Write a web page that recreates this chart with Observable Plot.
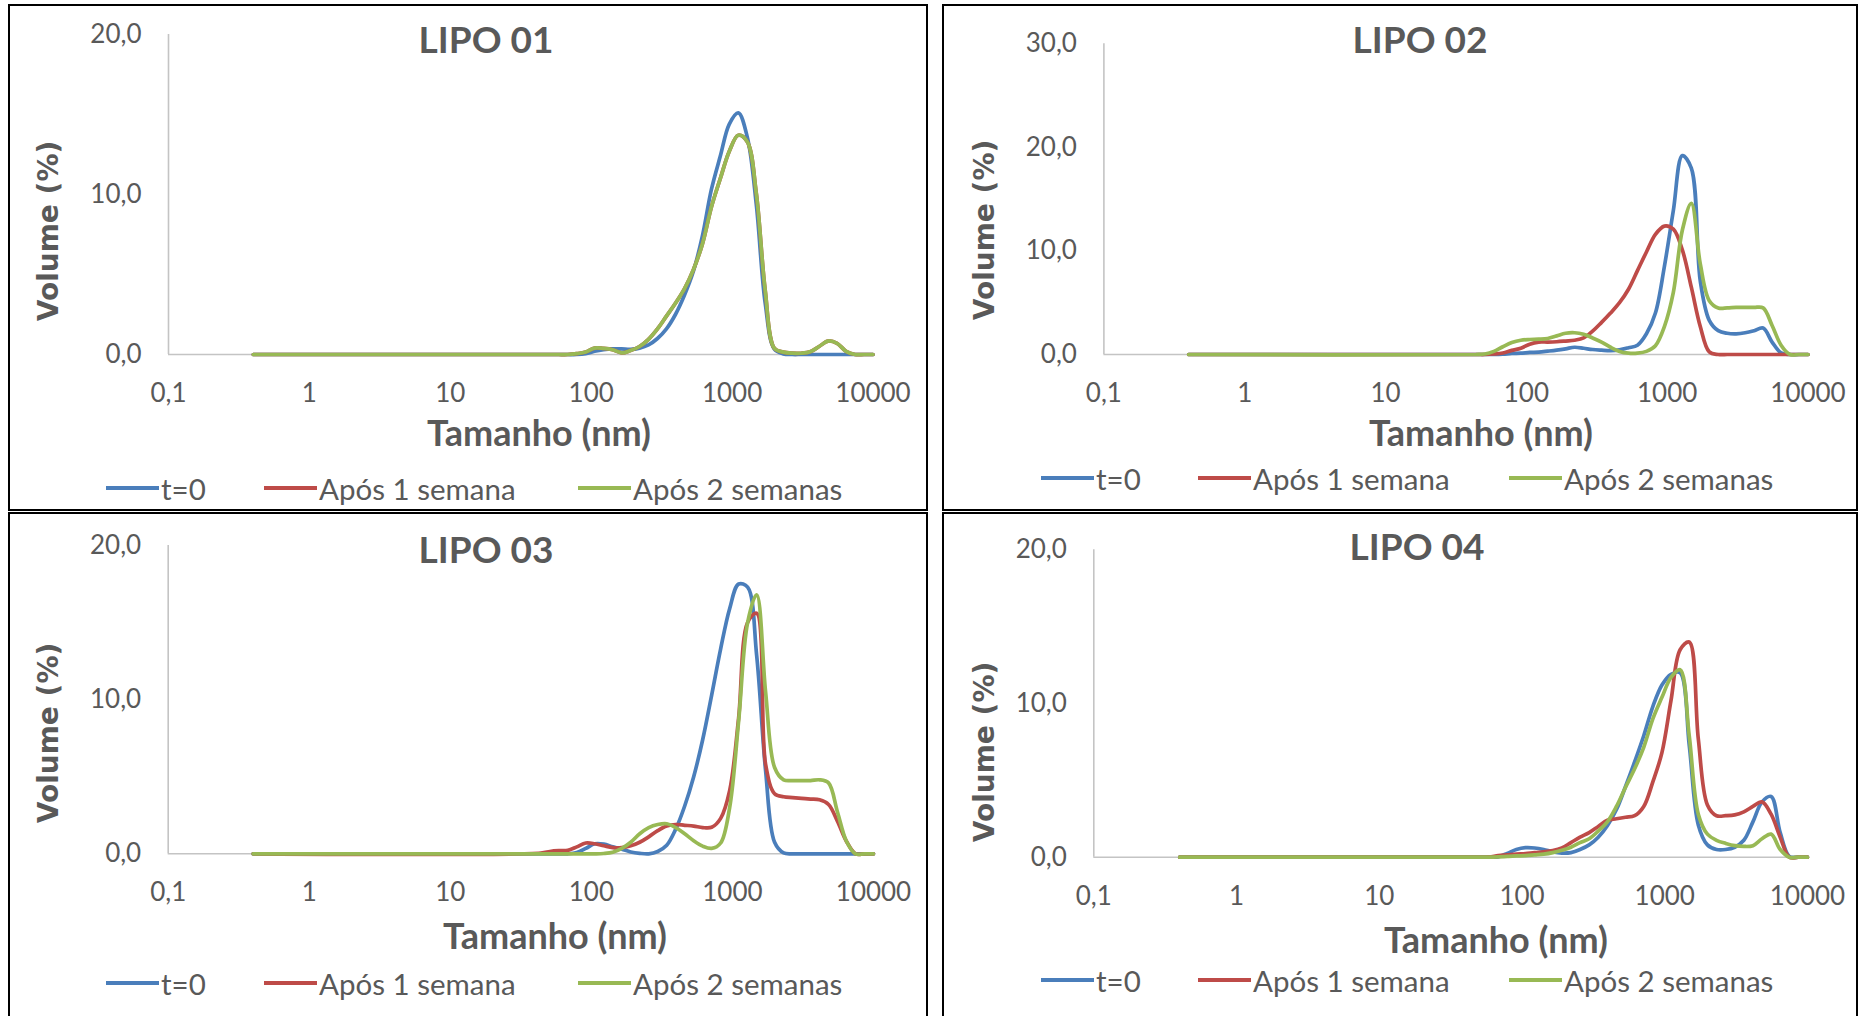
<!DOCTYPE html>
<html>
<head>
<meta charset="utf-8">
<script src="https://cdn.jsdelivr.net/npm/d3@7"></script>
<script src="https://cdn.jsdelivr.net/npm/@observablehq/plot@0.6"></script>
<style>
  html, body { margin: 0; padding: 0; background: #ffffff; }
  body { width: 1861px; height: 1016px; overflow: hidden; position: relative; font-family: Lato, "Open Sans", sans-serif; color: #595959; }
  .box { position: absolute; border: 2px solid #000; box-sizing: border-box; }
  .abs { position: absolute; white-space: nowrap; }
  .title { font-weight: 700; font-size: 37px; transform: translate(-50%, -50%); }
  .xtitle { font-weight: 700; font-size: 36px; transform: translate(-50%, -50%); }
  .ytitle { font-family: "DejaVu Sans", sans-serif; font-weight: 700; font-size: 28px; transform: translate(-50%, -50%) rotate(-90deg); }
  .sw { position: absolute; height: 4px; width: 53px; }
  .lt { position: absolute; font-size: 29.5px; transform: translateY(-50%); white-space: nowrap; }
  .plot { position: absolute; }
</style>
</head>
<body>
<script>
// ---- data ----
const seriesNames = ["t=0", "Após 1 semana", "Após 2 semanas"];
const seriesColors = ["#4a7ebb", "#be4b48", "#98b954"];
const panelTitles = ["LIPO 01", "LIPO 02", "LIPO 03", "LIPO 04"];
const xTicks = [0.1, 1, 10, 100, 1000, 10000];

// size classes (nm)
const sizes = [0.4, 43.82, 50.75, 58.77, 68.06, 78.82, 91.28, 105.7, 122.4, 141.8, 164.2, 190.1, 220.2, 255.0, 295.3, 342.0, 396.1, 458.7, 531.2, 615.1, 712.4, 825.0, 955.4, 1106, 1281, 1484, 1718, 1990, 2305, 2669, 3091, 3580, 4145, 4801, 5560, 6439, 7456, 8635, 10000];

// LIPO 01 — Volume (%)
const lipo01_t0 = [0, 0, 0, 0, 0, 0, 0.05, 0.2, 0.3, 0.35, 0.35, 0.32, 0.4, 0.6, 1.0, 1.6, 2.5, 3.7, 5.2, 7.4, 10.3, 12.4, 14.4, 15.1, 13.6, 9.4, 3.2, 0.35, 0.04, 0, 0, 0, 0, 0, 0, 0, 0, 0, 0];
const lipo01_w1 = [0, 0, 0, 0, 0, 0.05, 0.15, 0.4, 0.38, 0.3, 0.1, 0.25, 0.5, 0.95, 1.6, 2.4, 3.2, 4.1, 5.3, 6.9, 9.2, 11.0, 12.7, 13.7, 13.3, 10.1, 4.0, 0.4, 0.15, 0.08, 0.08, 0.17, 0.5, 0.84, 0.7, 0.2, 0, 0, 0];
const lipo01_w2 = [0, 0, 0, 0, 0, 0.05, 0.15, 0.4, 0.38, 0.3, 0.1, 0.25, 0.5, 0.95, 1.6, 2.4, 3.2, 4.1, 5.3, 6.9, 9.2, 11.0, 12.7, 13.7, 13.3, 10.1, 4.0, 0.4, 0.15, 0.08, 0.08, 0.17, 0.5, 0.84, 0.7, 0.2, 0, 0, 0];

// LIPO 02
const lipo02_t0 = [0, 0, 0, 0, 0.03, 0.1, 0.13, 0.2, 0.23, 0.32, 0.42, 0.55, 0.7, 0.6, 0.48, 0.42, 0.38, 0.45, 0.65, 0.9, 2.0, 4.0, 8.5, 13.9, 19.2, 18.0, 7.1, 3.3, 2.3, 2.05, 2.0, 2.1, 2.3, 2.55, 1.2, 0.15, 0, 0, 0];
const lipo02_w1 = [0, 0, 0, 0.05, 0.15, 0.4, 0.6, 1.0, 1.2, 1.2, 1.23, 1.3, 1.38, 1.6, 2.25, 3.1, 4.0, 5.0, 6.3, 8.1, 9.9, 11.6, 12.4, 12.1, 10.1, 6.5, 2.7, 0.25, 0, 0, 0, 0, 0, 0, 0, 0, 0, 0, 0];
const lipo02_w2 = [0, 0, 0.05, 0.3, 0.75, 1.15, 1.38, 1.45, 1.48, 1.55, 1.8, 2.05, 2.1, 1.95, 1.6, 1.2, 0.7, 0.3, 0.13, 0.13, 0.3, 0.85, 2.7, 6.0, 12.0, 14.6, 8.75, 5.2, 4.5, 4.5, 4.55, 4.55, 4.55, 4.5, 2.8, 0.9, 0, 0, 0];

// LIPO 03
const lipo03_t0 = [0, 0, 0, 0, 0, 0.08, 0.35, 0.65, 0.63, 0.45, 0.3, 0.12, 0.03, 0, 0.15, 0.55, 1.6, 3.1, 5.0, 7.4, 10.3, 13.3, 15.9, 17.5, 17.3, 12.9, 5.4, 0.75, 0.06, 0, 0, 0, 0, 0, 0, 0, 0, 0, 0];
const lipo03_w1 = [0, 0.05, 0.15, 0.2, 0.22, 0.45, 0.7, 0.65, 0.52, 0.4, 0.4, 0.52, 0.75, 1.1, 1.5, 1.8, 1.9, 1.85, 1.8, 1.7, 1.72, 2.3, 4.1, 8.8, 15.0, 15.6, 5.8, 3.9, 3.7, 3.65, 3.6, 3.55, 3.5, 3.2, 2.1, 0.8, 0, 0, 0];
const lipo03_w2 = [0, 0, 0, 0, 0, 0, 0, 0, 0.02, 0.1, 0.35, 0.75, 1.3, 1.7, 1.9, 1.95, 1.7, 1.3, 0.85, 0.5, 0.35, 0.7, 3.0, 8.6, 15.0, 16.8, 10.5, 5.6, 4.8, 4.75, 4.75, 4.75, 4.8, 4.6, 2.7, 0.8, 0, 0, 0];

// LIPO 04
const lipo04_t0 = [0, 0, 0, 0, 0.02, 0.25, 0.5, 0.62, 0.6, 0.5, 0.35, 0.27, 0.3, 0.5, 0.8, 1.3, 2.05, 3.1, 4.6, 6.2, 7.9, 9.8, 11.2, 11.9, 12.0, 7.3, 2.1, 0.8, 0.5, 0.5, 0.65, 1.1, 2.3, 3.6, 3.95, 1.6, 0.05, 0, 0];
const lipo04_w1 = [0, 0, 0, 0.02, 0.1, 0.15, 0.2, 0.23, 0.3, 0.35, 0.43, 0.6, 0.95, 1.3, 1.6, 2.0, 2.4, 2.5, 2.6, 2.7, 3.3, 4.9, 6.8, 10.2, 13.5, 14.0, 7.7, 3.4, 2.7, 2.7, 2.75, 2.95, 3.3, 3.6, 2.8, 1.3, 0, 0, 0];
const lipo04_w2 = [0, 0, 0, 0, 0.02, 0.05, 0.08, 0.1, 0.15, 0.2, 0.3, 0.45, 0.65, 0.95, 1.2, 1.7, 2.3, 3.3, 4.55, 5.75, 7.15, 9.0, 10.4, 11.7, 12.2, 7.9, 2.8, 1.5, 1.1, 0.9, 0.75, 0.7, 0.75, 1.2, 1.5, 0.5, 0, 0, 0];

const yMaxes = [20, 30, 20, 20];
const yTickSets = [[0, 10, 20], [0, 10, 20, 30], [0, 10, 20], [0, 10, 20]];

// ---- layout (page pixels) ----
const layout = [
  {box: [8, 4, 920, 507], axisX: 168, endX: 872.5, topY: 34, zeroY: 354, title: [486, 38], ytitle: [48, 231], xtitle: [539, 432], legY: 488, sw: [106, 264, 578]},
  {box: [942, 4, 916, 507], axisX: 1103.4, endX: 1807.5, topY: 43.3, zeroY: 354, title: [1420, 38], ytitle: [984, 230], xtitle: [1481, 432], legY: 478, sw: [1041, 1198, 1509]},
  {box: [8, 512, 920, 520], axisX: 167.7, endX: 873, topY: 545, zeroY: 853.3, title: [486, 548], ytitle: [48, 733], xtitle: [555, 935], legY: 983, sw: [106, 264, 578]},
  {box: [942, 512, 916, 520], axisX: 1093.3, endX: 1807, topY: 549.3, zeroY: 856.7, title: [1417, 545], ytitle: [984, 752], xtitle: [1496, 939], legY: 980, sw: [1041, 1198, 1509]}
];

const panelSeries = [
  [lipo01_t0, lipo01_w1, lipo01_w2],
  [lipo02_t0, lipo02_w1, lipo02_w2],
  [lipo03_t0, lipo03_w1, lipo03_w2],
  [lipo04_t0, lipo04_w1, lipo04_w2]
];

const fmtX = d => String(d).replace(".", ",");
const fmtY = d => d.toFixed(1).replace(".", ",");

function add(tag, cls, css, text) {
  const el = document.createElement(tag);
  if (cls) el.className = cls;
  Object.assign(el.style, css);
  if (text != null) el.textContent = text;
  document.body.appendChild(el);
  return el;
}

layout.forEach((L, p) => {
  const [bx, by, bw, bh] = L.box;
  add("div", "box", {left: bx + "px", top: by + "px", width: bw + "px", height: bh + "px"});

  const rows = [];
  panelSeries[p].forEach((arr, s) => {
    sizes.forEach((sz, i) => rows.push({size: sz, value: arr[i], series: seriesNames[s]}));
  });

  const left = bx, top = by, width = bw, height = 500;
  const chart = Plot.plot({
    width, height,
    marginLeft: L.axisX - left,
    marginRight: left + width - L.endX,
    marginTop: L.topY - top,
    marginBottom: top + height - L.zeroY,
    style: {fontFamily: "Lato, 'Open Sans', sans-serif", fontSize: "26px", color: "#595959", background: "transparent", overflow: "visible"},
    x: {type: "log", domain: [0.1, 10000]},
    y: {domain: [0, yMaxes[p]]},
    color: {domain: seriesNames, range: seriesColors},
    marks: [
      Plot.ruleX([0.1], {stroke: "#c4c4c4", strokeWidth: 1.6}),
      Plot.ruleY([0], {stroke: "#c4c4c4", strokeWidth: 1.6}),
      Plot.axisX({ticks: xTicks, tickFormat: fmtX, tickSize: 0, tickPadding: 29, label: null}),
      Plot.axisY({ticks: yTickSets[p], tickFormat: fmtY, tickSize: 0, tickPadding: 27, label: null}),
      Plot.line(rows, {x: "size", y: "value", z: "series", stroke: "series", curve: "catmull-rom", strokeWidth: 3.7, strokeLinejoin: "round", strokeLinecap: "round"})
    ]
  });
  chart.classList.add("plot");
  chart.style.left = left + "px";
  chart.style.top = top + "px";
  document.body.appendChild(chart);

  add("div", "abs title", {left: L.title[0] + "px", top: L.title[1] + "px"}, panelTitles[p]);
  add("div", "abs xtitle", {left: L.xtitle[0] + "px", top: L.xtitle[1] + "px"}, "Tamanho (nm)");
  add("div", "abs ytitle", {left: L.ytitle[0] + "px", top: L.ytitle[1] + "px"}, "Volume (%)");

  seriesNames.forEach((name, s) => {
    add("div", "sw", {left: L.sw[s] + "px", top: (L.legY - 2) + "px", background: seriesColors[s]});
    add("div", "lt", {left: (L.sw[s] + 55) + "px", top: L.legY + "px"}, name);
  });
});
</script>
</body>
</html>
